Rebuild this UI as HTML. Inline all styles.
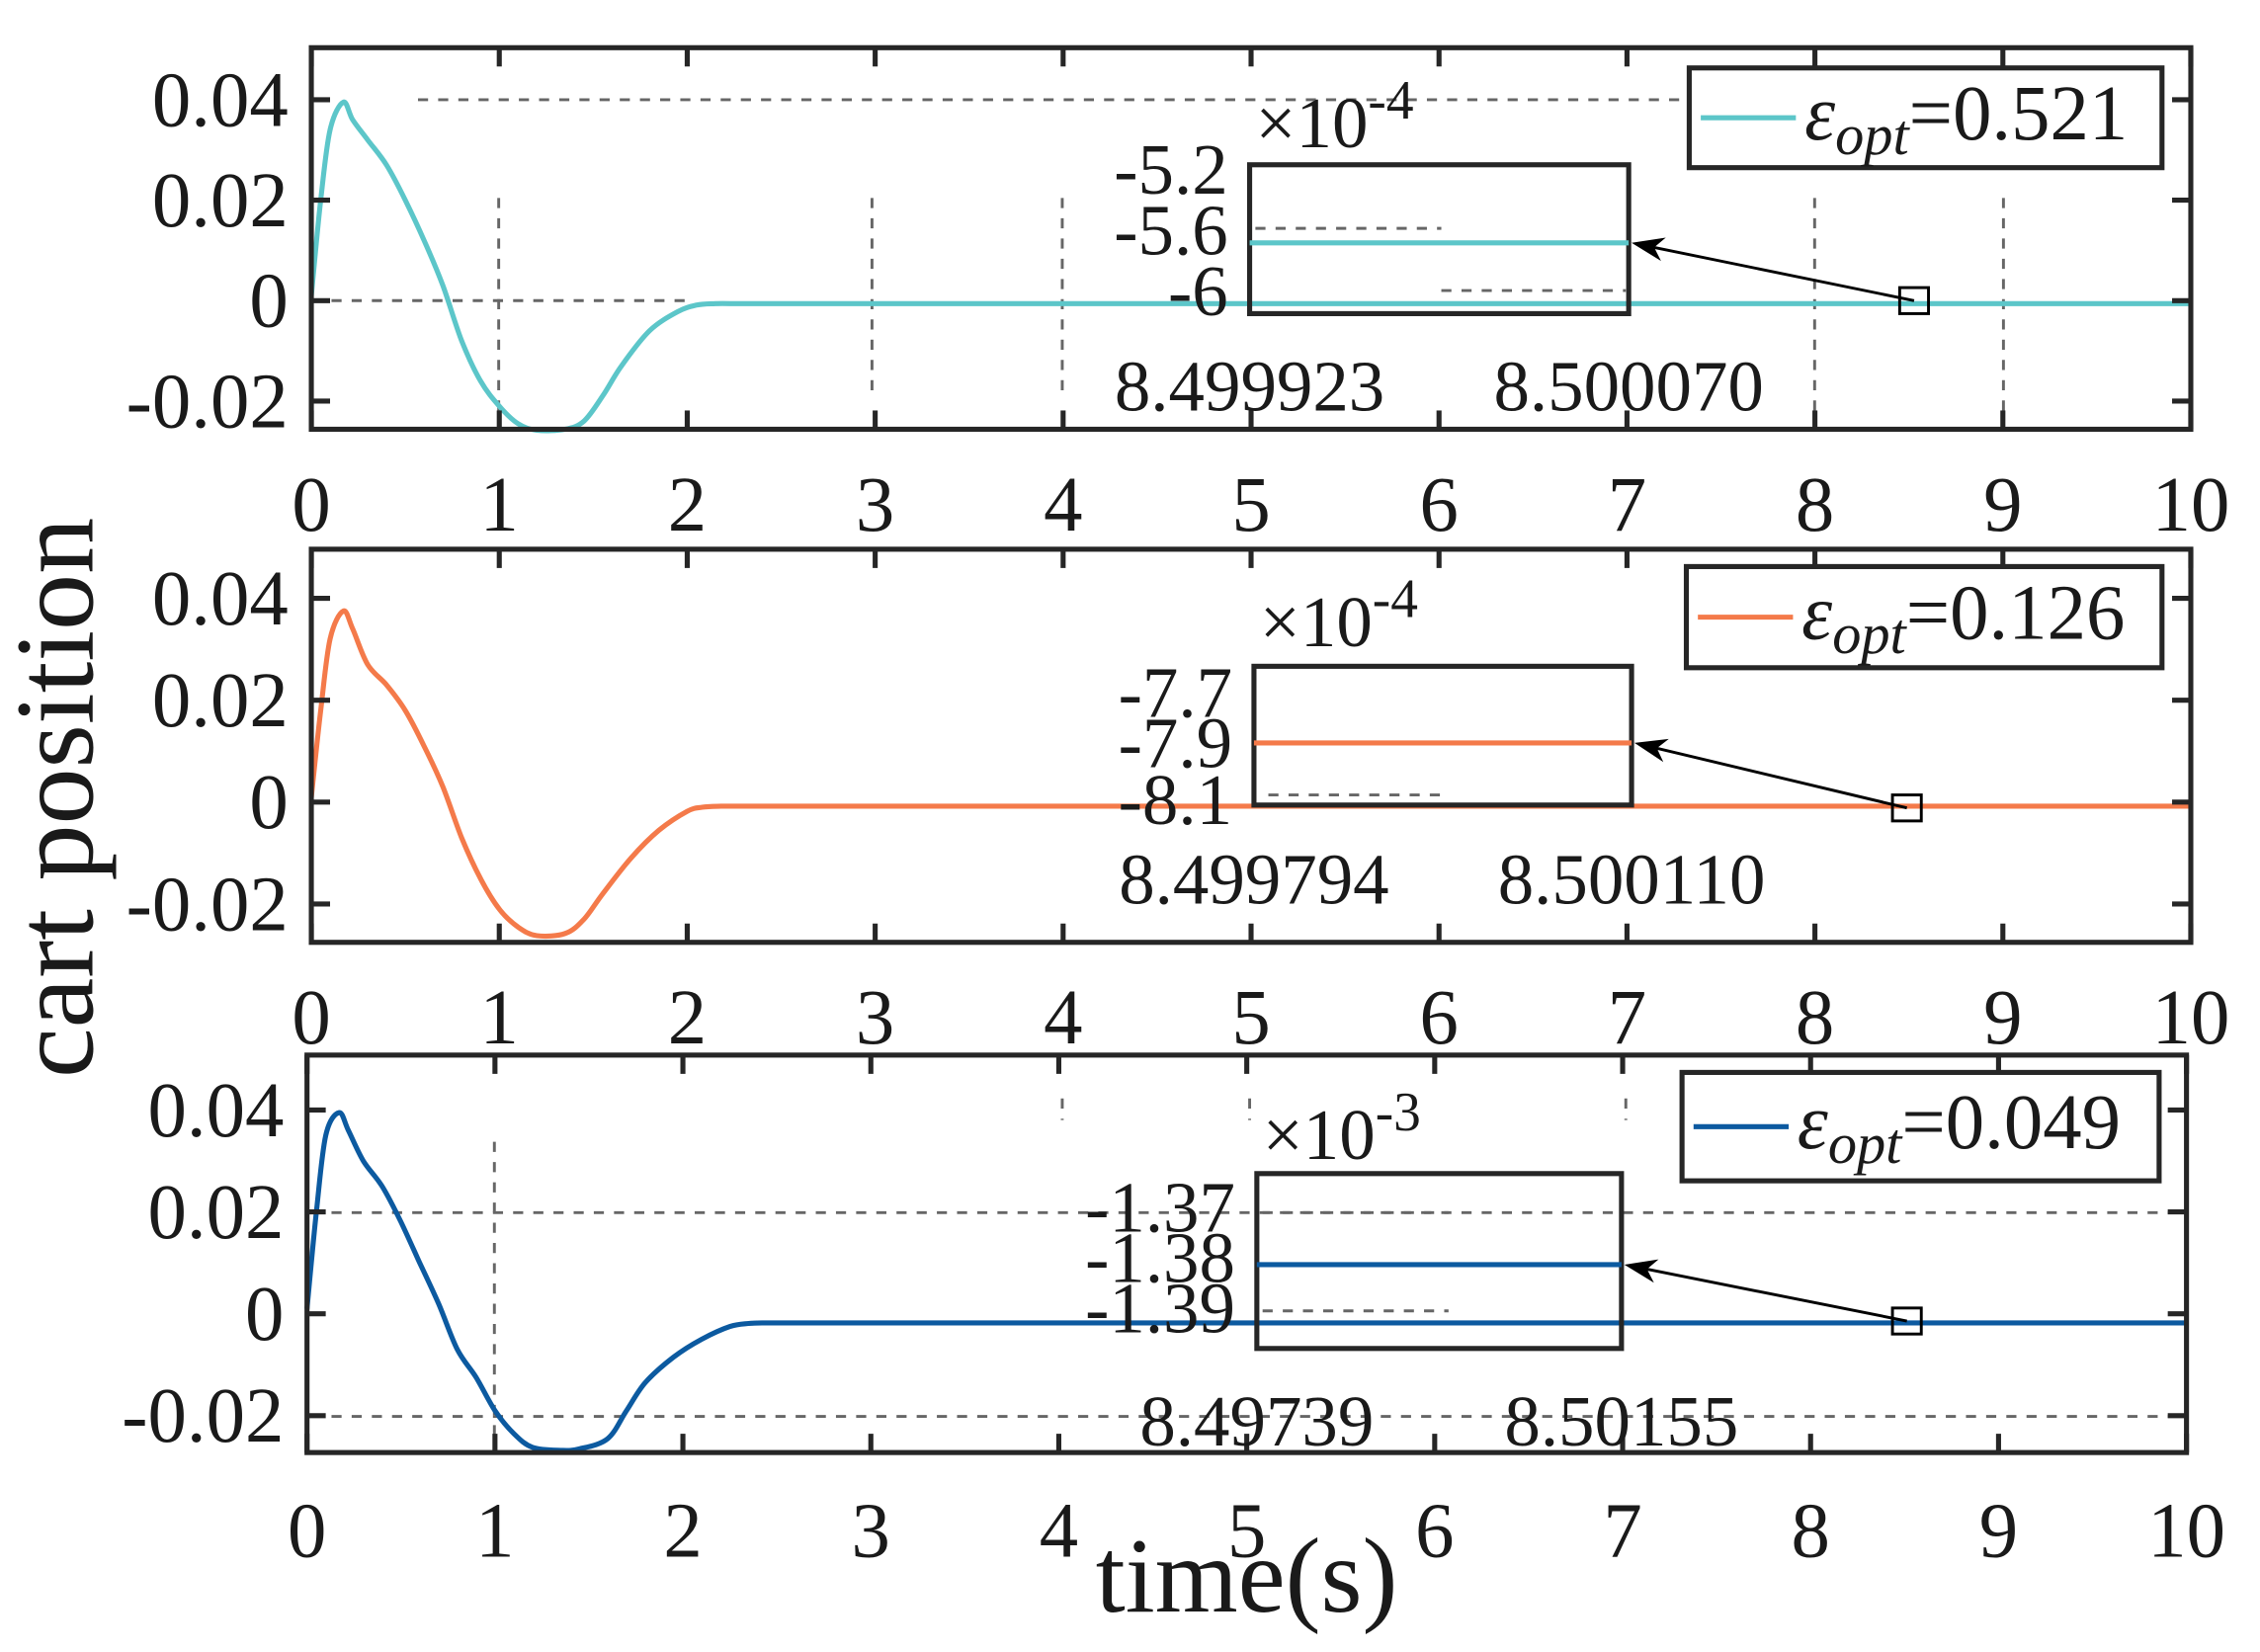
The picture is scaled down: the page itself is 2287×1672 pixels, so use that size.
<!DOCTYPE html>
<html><head><meta charset="utf-8"><style>html,body{margin:0;padding:0;background:#fff}svg{display:block}</style></head>
<body>
<svg id="s" xmlns="http://www.w3.org/2000/svg" width="2287" height="1672" viewBox="0 0 1568 1143" preserveAspectRatio="none" font-family="'Liberation Serif', serif" fill="#1a1a1a"></svg>
<script>
const S=document.getElementById('s');let h='';
const P=[
 {x0:216,x1:1520,y0:33,y1:297,y04:69,y0v:208,col:'#5CC6C9',lab:'0.521',
  leg:[1172,47,328,69],ins:[867,114,263,103],iline:168,ilabs:[['-5.2',134],['-5.6',176],['-6',218]],
  exp:'-4',expy:102,bl:['8.499923','8.500070'],bly:284,sq:[1328,208],xly:367,
  hg:[[69,290,1170]],hg0:[[208,216,480]],vg:[[346,137,297],[605,137,270],[737,137,270],[1259,137,297],[1390,137,297]],
  ig:[[158,871,1000],[201,1000,1128]],
  pts:[[0,.001],[.05,.02],[.1,.034],[.17,.0395],[.22,.036],[.3,.032],[.4,.027],[.5,.02],[.6,.012],[.7,.003],[.8,-.008],[.9,-.016],[1,-.021],[1.1,-.0245],[1.2,-.0258],[1.35,-.0256],[1.45,-.024],[1.55,-.019],[1.65,-.013],[1.8,-.006],[1.95,-.0022],[2.05,-.0009],[2.15,-.0006],[2.25,-.0006]]},
 {x0:216,x1:1520,y0:380,y1:652,y04:414,y0v:555,col:'#F47A4A',lab:'0.126',
  leg:[1170,392,330,70],ins:[870,461,262,96],iline:514,ilabs:[['-7.7',496],['-7.9',531],['-8.1',570]],
  exp:'-4',expy:447,bl:['8.499794','8.500110'],bly:625,sq:[1323,559],xly:722,
  hg:[],hg0:[],vg:[],ig:[[550,880,1005]],
  pts:[[0,.001],[.05,.018],[.1,.032],[.17,.0375],[.22,.034],[.3,.027],[.4,.023],[.5,.018],[.6,.011],[.7,.003],[.8,-.007],[.9,-.015],[1,-.021],[1.1,-.0245],[1.2,-.0262],[1.35,-.0258],[1.45,-.023],[1.55,-.018],[1.7,-.011],[1.85,-.0055],[2.0,-.0018],[2.08,-.001],[2.18,-.0008],[2.28,-.0008]]},
 {x0:213,x1:1517,y0:730,y1:1005,y04:768,y0v:909,col:'#0C5AA0',lab:'0.049',
  leg:[1167,742,331,75],ins:[872,812,253,121],iline:875,ilabs:[['-1.37',852],['-1.38',887],['-1.39',922]],
  exp:'-3',expy:802,bl:['8.49739','8.50155'],bly:1000,sq:[1323,914],xly:1077,
  hg:[[839,216,1515]],hg0:[[980,216,1515]],vg:[[343,790,1005],[737,760,775],[867,760,775],[1128,760,775]],
  ig:[[839,876,1005],[907,876,1005]],
  pts:[[0,.001],[.05,.02],[.1,.035],[.17,.0395],[.22,.036],[.3,.03],[.4,.025],[.5,.018],[.6,.01],[.7,.002],[.8,-.007],[.9,-.0125],[1,-.019],[1.1,-.0235],[1.2,-.0262],[1.35,-.0268],[1.45,-.0265],[1.6,-.0245],[1.7,-.019],[1.8,-.0135],[1.95,-.0085],[2.1,-.005],[2.25,-.0025],[2.35,-.0019],[2.45,-.0018],[2.55,-.0018]]}
];
function smooth(ps){let d='M'+ps[0][0].toFixed(1)+','+ps[0][1].toFixed(1);
 for(let i=0;i<ps.length-1;i++){const p0=ps[Math.max(0,i-1)],p1=ps[i],p2=ps[i+1],p3=ps[Math.min(ps.length-1,i+2)];
  const c1=[p1[0]+(p2[0]-p0[0])/6,p1[1]+(p2[1]-p0[1])/6],c2=[p2[0]-(p3[0]-p1[0])/6,p2[1]-(p3[1]-p1[1])/6];
  d+=`C${c1[0].toFixed(1)},${c1[1].toFixed(1)} ${c2[0].toFixed(1)},${c2[1].toFixed(1)} ${p2[0].toFixed(1)},${p2[1].toFixed(1)}`;}
 return d;}
P.forEach(p=>{
 const X=t=>p.x0+(p.x1-p.x0)*t/10, Y=v=>p.y0v-(p.y0v-p.y04)*v/0.04;
 const g='stroke="#666" stroke-width="2" stroke-dasharray="7,7" fill="none"';
 p.hg.concat(p.hg0).forEach(a=>h+=`<line x1="${a[1]}" x2="${a[2]}" y1="${a[0]}" y2="${a[0]}" ${g}/>`);
 p.vg.forEach(a=>h+=`<line x1="${a[0]}" x2="${a[0]}" y1="${a[1]}" y2="${a[2]}" ${g}/>`);
 const ps=p.pts.map(q=>[X(q[0]),Y(q[1])]);
 const last=ps[ps.length-1];
 h+=`<path d="${smooth(ps)}L${X(10)},${last[1].toFixed(1)}" stroke="${p.col}" stroke-width="3.5" fill="none" stroke-linejoin="round"/>`;
 h+=`<rect x="${p.x0}" y="${p.y0}" width="${p.x1-p.x0}" height="${p.y1-p.y0}" fill="none" stroke="#262626" stroke-width="3.5"/>`;
 for(let t=0;t<=10;t++){const x=X(t);h+=`<line x1="${x}" x2="${x}" y1="${p.y1}" y2="${p.y1-13}" stroke="#262626" stroke-width="3.5"/><line x1="${x}" x2="${x}" y1="${p.y0}" y2="${p.y0+13}" stroke="#262626" stroke-width="3.5"/>`;
  h+=`<text x="${x}" y="${p.xly}" font-size="54" text-anchor="middle">${t}</text>`;}
 [[.04,'0.04'],[.02,'0.02'],[0,'0'],[-.02,'-0.02']].forEach(a=>{const y=Y(a[0]);
  h+=`<line x1="${p.x0}" x2="${p.x0+13}" y1="${y}" y2="${y}" stroke="#262626" stroke-width="3.5"/><line x1="${p.x1}" x2="${p.x1-13}" y1="${y}" y2="${y}" stroke="#262626" stroke-width="3.5"/>`;
  h+=`<text x="${p.x0-16}" y="${y+18}" font-size="54" text-anchor="end">${a[1]}</text>`;});
 const L=p.leg;h+=`<rect x="${L[0]}" y="${L[1]}" width="${L[2]}" height="${L[3]}" fill="#fff" stroke="#262626" stroke-width="3.5"/>`;
 const ly=L[1]+L[3]/2;h+=`<line x1="${L[0]+8}" x2="${L[0]+74}" y1="${ly}" y2="${ly}" stroke="${p.col}" stroke-width="3.5"/>`;
 h+=`<text x="${L[0]+80}" y="${ly+15}" font-size="54"><tspan font-style="italic">ε</tspan><tspan font-style="italic" font-size="40" dy="10">opt</tspan><tspan dy="-10">=0.${p.lab.slice(2)}</tspan></text>`;
 const I=p.ins;
 p.ig.forEach(a=>h+=`<line x1="${a[1]}" x2="${a[2]}" y1="${a[0]}" y2="${a[0]}" ${g}/>`);
 h+=`<rect x="${I[0]}" y="${I[1]}" width="${I[2]}" height="${I[3]}" fill="none" stroke="#262626" stroke-width="3.5"/>`;
 h+=`<line x1="${I[0]}" x2="${I[0]+I[2]}" y1="${p.iline}" y2="${p.iline}" stroke="${p.col}" stroke-width="3.5"/>`;
 p.ilabs.forEach(a=>h+=`<text x="${I[0]-15}" y="${a[1]}" font-size="50" text-anchor="end">${a[0]}</text>`);
 h+=`<text x="${I[0]+4}" y="${p.expy}" font-size="50">×10<tspan font-size="38" dy="-20">${p.exp}</tspan></text>`;
 h+=`<text x="${I[0]}" y="${p.bly}" font-size="50" text-anchor="middle">${p.bl[0]}</text><text x="${I[0]+I[2]}" y="${p.bly}" font-size="50" text-anchor="middle">${p.bl[1]}</text>`;
 const [sx,sy]=p.sq;h+=`<rect x="${sx-10}" y="${sy-9}" width="20" height="18" fill="none" stroke="#000" stroke-width="2"/>`;
 const ex=I[0]+I[2]+2,ey=p.iline,ang=Math.atan2(sy-ey,sx-ex);
 h+=`<line x1="${sx}" y1="${sy}" x2="${ex+10*Math.cos(ang)}" y2="${ey+10*Math.sin(ang)}" stroke="#000" stroke-width="2"/>`;
 const a1=ang+0.35,a2=ang-0.35;
 h+=`<polygon points="${ex},${ey} ${ex+24*Math.cos(a1)},${ey+24*Math.sin(a1)} ${ex+16*Math.cos(ang)},${ey+16*Math.sin(ang)} ${ex+24*Math.cos(a2)},${ey+24*Math.sin(a2)}" fill="#000"/>`;
});
h+=`<text x="865" y="1115" font-size="74" text-anchor="middle">time(s)</text>`;
h+=`<text transform="translate(64,552) rotate(-90)" font-size="78" text-anchor="middle">cart position</text>`;
S.innerHTML=h;
</script>
</body></html>
